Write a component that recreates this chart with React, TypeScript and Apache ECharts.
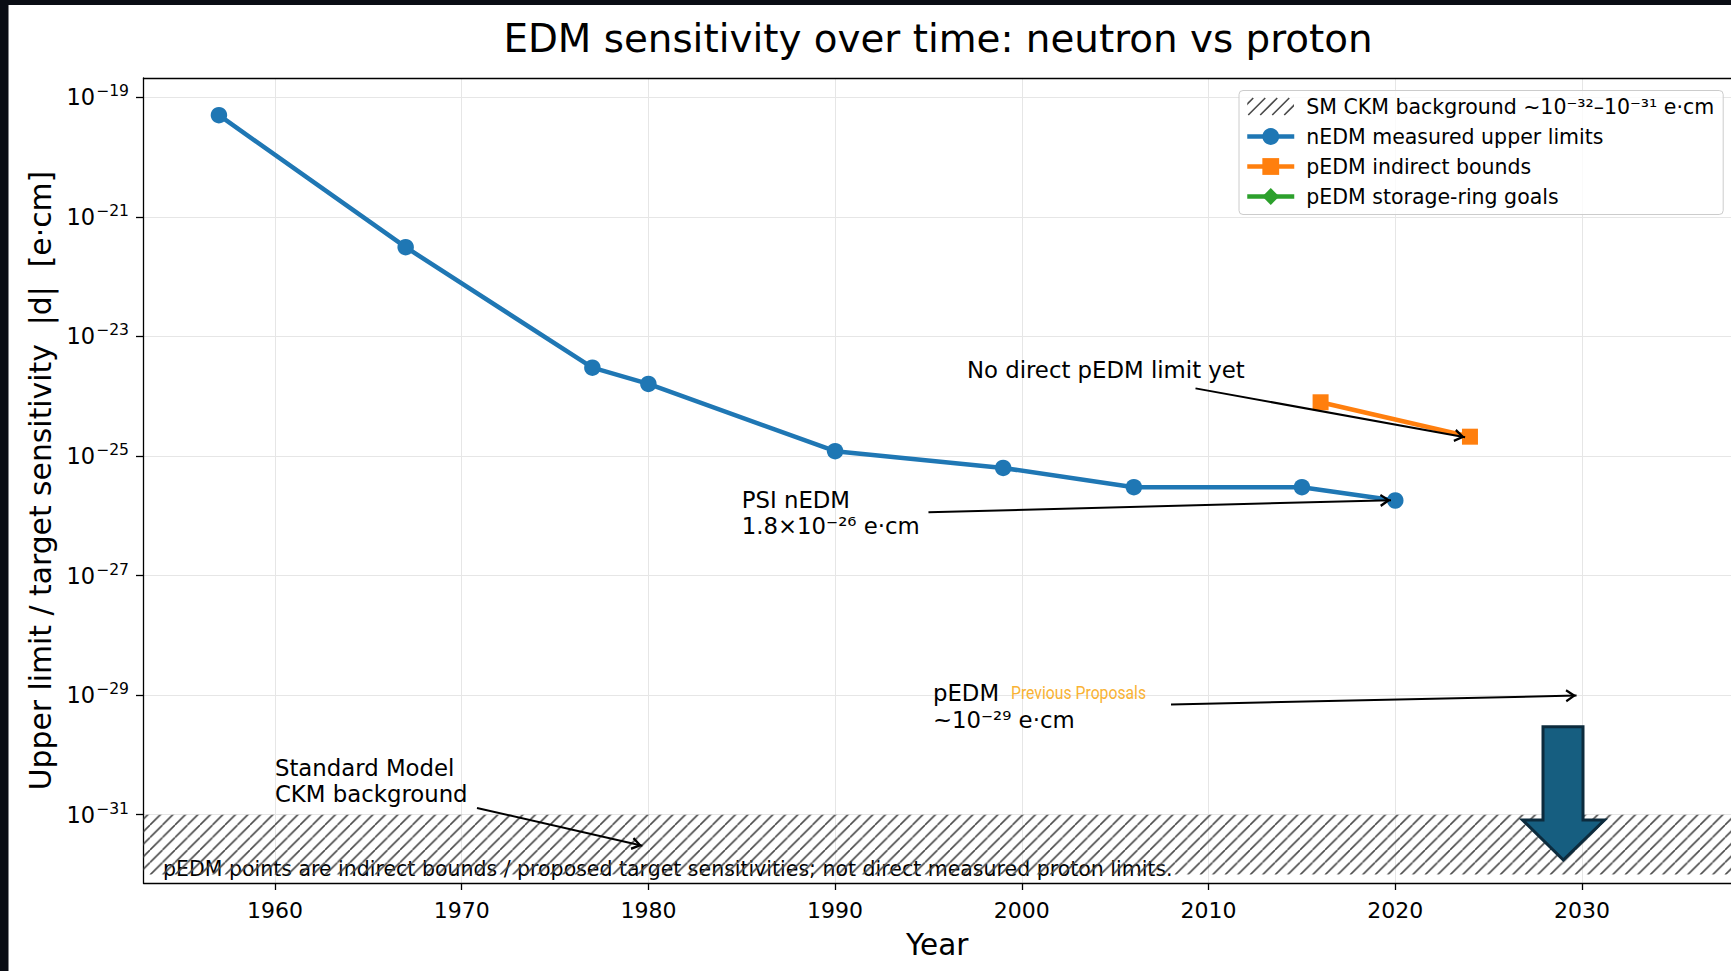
import React, { useEffect, useRef } from 'react';
import * as echarts from 'echarts';

// ---------------- data ----------------
const nedmYears = [1957, 1967, 1977, 1980, 1990, 1999, 2006, 2015, 2020];
const nedmLimits = [5e-20, 3.1e-22, 3.0e-24, 1.6e-24, 1.2e-25, 6.3e-26, 3.0e-26, 3.0e-26, 1.8e-26];
const pedmIndirectYears = [2016, 2024];
const pedmIndirectBounds = [7.9e-25, 2.1e-25];
const pedmGoalYears: number[] = [];
const pedmGoalValues: number[] = [];
const smBandRange = [1e-32, 1e-31];
const xTickValues = [1960, 1970, 1980, 1990, 2000, 2010, 2020, 2030];
const yTickValues = [1e-31, 1e-29, 1e-27, 1e-25, 1e-23, 1e-21, 1e-19];

const seriesNames = [
  'SM CKM background ~10⁻³²–10⁻³¹ e·cm',
  'nEDM measured upper limits',
  'pEDM indirect bounds',
  'pEDM storage-ring goals',
];

// annotation arrows: [year, value]
const arrowFrom = [
  [2009.3, Math.pow(10, -23.87)],
  [1995.0, Math.pow(10, -25.942)],
  [1970.82, Math.pow(10, -30.888)],
  [2007.99, Math.pow(10, -29.156)],
];
const arrowTo = [
  [2023.74, Math.pow(10, -24.687)],
  [2019.77, Math.pow(10, -25.739)],
  [1979.68, Math.pow(10, -31.519)],
  [2029.71, Math.pow(10, -29.007)],
];

// annotation texts anchored in data space (left edge, vertical middle)
const annotationTexts = [
  'No direct pEDM limit yet',
  'PSI nEDM\n1.8×10⁻²⁶ e·cm',
  'Standard Model\nCKM background',
  'pEDM\n~10⁻²⁹ e·cm',
];
const annotationAnchors = [
  [1997.06, Math.pow(10, -23.563)],
  [1985.0, Math.pow(10, -25.958)],
  [1960.0, Math.pow(10, -30.437)],
  [1995.24, Math.pow(10, -29.19)],
];

const X_MIN = 1952.96;
const X_MAX = 2037.98;
const FONT = "'DejaVu Sans', 'Noto Sans', sans-serif";

function hatchSvg(w: number, h: number, step: number, stroke: string, sw: number, offset: number) {
  let d = '';
  for (let x0 = -h - step + offset; x0 < w + step; x0 += step) {
    d += `M${x0},${h} L${x0 + h},0 `;
  }
  return `<svg xmlns="http://www.w3.org/2000/svg" width="${w}" height="${h}" viewBox="0 0 ${w} ${h}"><path d="${d}" stroke="${stroke}" stroke-width="${sw}" fill="none"/></svg>`;
}
function toDataUrl(svg: string) {
  return 'data:image/svg+xml;charset=utf-8,' + encodeURIComponent(svg);
}

const HATCH_T = 12.5;
const hatchTileUrl = toDataUrl(hatchSvg(HATCH_T, HATCH_T, HATCH_T, '#4a4a4a', 1.6, 0));
const hatchLegendUrl = toDataUrl(hatchSvg(47, 17, 12, '#4a4a4a', 1.6, 6));

const chevron = 'path://M5,0 L10,8.4 L8.4,9.4 L5,3.6 L1.6,9.4 L0,8.4 Z M5,-10 L5.01,-10 L5,-9.99 Z';

export default function App() {
  const ref = useRef<HTMLDivElement>(null);

  useEffect(() => {
    if (!ref.current) return;
    const chart = echarts.init(ref.current, undefined, { renderer: 'svg' });

    const nedmData = nedmYears.map((y, i) => [y, nedmLimits[i]]);
    const pedmData = pedmIndirectYears.map((y, i) => [y, pedmIndirectBounds[i]]);
    const goalData = pedmGoalYears.map((y, i) => [y, pedmGoalValues[i]]);

    const option: any = {
      animation: false,
      backgroundColor: '#ffffff',
      textStyle: { fontFamily: FONT },
      grid: {
        left: 143.5,
        top: 78,
        width: 1587.5,
        height: 805,
        show: false,
      },
      legend: {
        orient: 'vertical',
        left: 1239,
        top: 90.5,
        itemWidth: 47,
        itemHeight: 21,
        itemGap: 4,
        padding: [3, 9, 5, 6],
        backgroundColor: 'rgba(255,255,255,0.8)',
        borderColor: '#cccccc',
        borderWidth: 1,
        borderRadius: 4,
        selectedMode: false,
        lineStyle: { width: 4.5 },
        textStyle: { fontSize: 20.5, color: '#000', fontFamily: FONT, lineHeight: 26, padding: [0, 0, 0, 7] },
        data: [
          { name: seriesNames[0], icon: 'image://' + hatchLegendUrl },
          { name: seriesNames[1] },
          { name: seriesNames[2] },
          { name: seriesNames[3] },
        ],
      },
      xAxis: [
        {
          type: 'value',
          min: X_MIN,
          max: X_MAX,
          name: 'Year',
          nameLocation: 'middle',
          nameGap: 46.5,
          nameTextStyle: { fontSize: 29.5, color: '#000', fontFamily: FONT },
          axisLine: { show: true, onZero: false, lineStyle: { color: '#000', width: 1.3 } },
          axisTick: { show: true, length: 7, customValues: xTickValues, lineStyle: { color: '#000', width: 1.3 } },
          axisLabel: { customValues: xTickValues, fontSize: 22, color: '#000', margin: 16, fontFamily: FONT, formatter: (v: number) => String(v) },
          splitLine: { show: true, lineStyle: { color: '#e6e6e6', width: 1 } },
        },
        {
          type: 'value',
          position: 'top',
          min: X_MIN,
          max: X_MAX,
          axisLine: { show: true, onZero: false, lineStyle: { color: '#000', width: 1.3 } },
          axisTick: { show: false },
          axisLabel: { show: false },
          splitLine: { show: false },
        },
      ],
      yAxis: {
        type: 'log',
        logBase: 10,
        min: Math.pow(10, -32.142),
        max: Math.pow(10, -18.679),
        name: 'Upper limit / target sensitivity  |d|  [e·cm]',
        nameLocation: 'middle',
        nameGap: 88,
        nameTextStyle: { fontSize: 29.8, color: '#000', fontFamily: FONT },
        axisLine: { show: true, onZero: false, lineStyle: { color: '#000', width: 1.3 } },
        axisTick: { show: true, length: 7.5, customValues: yTickValues, lineStyle: { color: '#000', width: 1.3 } },
        minorTick: { show: false },
        axisLabel: {
          customValues: yTickValues,
          margin: 14.5,
          formatter: (v: number) => {
            const e = Math.round(Math.log10(v));
            return `{b|10}{s|${e < 0 ? '−' : ''}${Math.abs(e)}}`;
          },
          rich: {
            b: { fontSize: 22.5, color: '#000', fontFamily: FONT, lineHeight: 28 },
            s: { fontSize: 15.6, color: '#000', fontFamily: FONT, verticalAlign: 'top', padding: [0, 0, 0, 1] },
          },
        },
        splitLine: { show: true, lineStyle: { color: '#e6e6e6', width: 1 } },
      },
      series: [
        {
          name: seriesNames[0],
          type: 'line',
          data: [],
          color: '#4a4a4a',
          markArea: {
            silent: true,
            z: 1,
            itemStyle: {
              color: { image: hatchTileUrl, repeat: 'repeat', imageWidth: HATCH_T, imageHeight: HATCH_T },
              borderWidth: 0,
            },
            label: { show: false },
            data: [[{ xAxis: 'min', yAxis: smBandRange[0] }, { xAxis: 'max', yAxis: smBandRange[1] }]],
          },
        },
        {
          name: seriesNames[1],
          type: 'line',
          data: nedmData,
          color: '#1f77b4',
          symbol: 'circle',
          symbolSize: 16.5,
          lineStyle: { width: 4.5, color: '#1f77b4' },
          itemStyle: { color: '#1f77b4' },
          z: 3,
          markLine: {
            silent: true,
            symbol: ['none', chevron],
            symbolSize: [13, 22],
            lineStyle: { color: '#000', width: 2, type: 'solid' },
            itemStyle: { color: '#000' },
            label: { show: false },
            data: arrowFrom.map((f, i) => [{ coord: f }, { coord: arrowTo[i] }]),
          },
        },
        {
          name: seriesNames[2],
          type: 'line',
          data: pedmData,
          color: '#ff7f0e',
          symbol: 'rect',
          symbolSize: 16,
          lineStyle: { width: 4.5, color: '#ff7f0e' },
          itemStyle: { color: '#ff7f0e' },
          z: 3,
        },
        {
          name: seriesNames[3],
          type: 'line',
          data: goalData,
          color: '#2ca02c',
          symbol: 'diamond',
          symbolSize: 18,
          lineStyle: { width: 4.5, color: '#2ca02c' },
          itemStyle: { color: '#2ca02c' },
          z: 3,
        },
      ],
    };

    chart.setOption(option);

    const px = (p: number[]) => chart.convertToPixel({ xAxisIndex: 0, yAxisIndex: 0 }, p) as number[];

    const annSizes = [22.8, 22.8, 22.8, 22.8];
    const annLineHeights = [26, 26.5, 26, 27];

    const elements: any[] = [];
    // title
    elements.push({
      type: 'text',
      x: 938,
      y: 38.6,
      z: 10,
      style: { text: 'EDM sensitivity over time: neutron vs proton', fontSize: 38.85, fontFamily: FONT, fill: '#000', textAlign: 'center', textVerticalAlign: 'middle' },
    });
    annotationTexts.forEach((t, i) => {
      const p = px(annotationAnchors[i]);
      elements.push({
        type: 'text',
        x: p[0],
        y: p[1],
        z: 10,
        style: { text: t, fontSize: annSizes[i], lineHeight: annLineHeights[i], fontFamily: FONT, fill: '#000', textAlign: 'left', textVerticalAlign: 'middle' },
      });
    });
    // small overlay label
    elements.push({
      type: 'text',
      x: 1011,
      y: 693,
      scaleX: 0.875,
      z: 10,
      style: { text: 'Previous Proposals', fontSize: 18, fontFamily: 'Roboto, sans-serif', fill: '#f9b233', textAlign: 'left', textVerticalAlign: 'middle' },
    });
    // note under the hatch
    elements.push({
      type: 'text',
      x: 163,
      y: 869,
      z: 0,
      style: { text: 'pEDM points are indirect bounds / proposed target sensitivities; not direct measured proton limits.', fontSize: 20.5, fontFamily: FONT, fill: '#000', textAlign: 'left', textVerticalAlign: 'middle' },
    });
    // block arrow overlay
    elements.push({
      type: 'polygon',
      z: 20,
      shape: {
        points: [
          [1543, 726.7], [1583, 726.7], [1583, 820], [1604.5, 820], [1563.3, 860], [1522.5, 820], [1543, 820],
        ],
      },
      style: { fill: '#165e80', stroke: '#0c2b3d', lineWidth: 3, lineJoin: 'miter' },
    });
    // dark slide background edges
    elements.push({ type: 'rect', z: 30, shape: { x: 0, y: 0, width: 8.5, height: 971 }, style: { fill: '#0a0d14' } });
    elements.push({ type: 'rect', z: 30, shape: { x: 0, y: 0, width: 1731, height: 5 }, style: { fill: '#0a0d14' } });

    chart.setOption({ graphic: { elements } });

    return () => {
      chart.dispose();
    };
  }, []);

  return <div ref={ref} style={{ position: 'absolute', left: 0, top: 0, width: 1731, height: 971 }} />;
}
